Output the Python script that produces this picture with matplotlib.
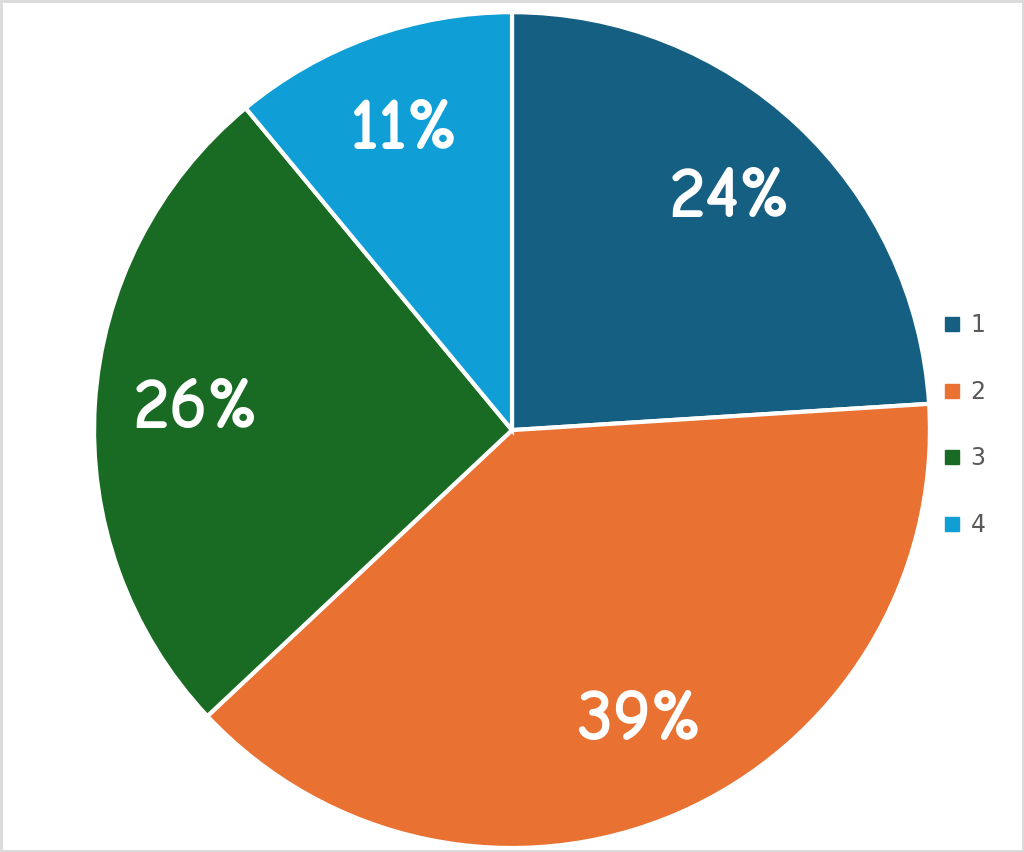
import matplotlib.pyplot as plt
from matplotlib.patches import Rectangle
from matplotlib.lines import Line2D

# data
labels = ["1", "2", "3", "4"]
values = [24, 39, 26, 11]
colors = ["#156082", "#E97132", "#196B24", "#0F9ED5"]

fig = plt.figure(figsize=(10.24, 8.52), dpi=100)
ax = fig.add_axes([0.0918, 0.0047, 0.8164, 0.981])

wedges, texts, autotexts = ax.pie(
    values, colors=colors, startangle=90, counterclock=False,
    autopct="%1.0f%%", pctdistance=0.76,
    wedgeprops=dict(edgecolor="white", linewidth=3),
    textprops=dict(color="white", fontsize=53, fontweight="bold",
                   family=["Comic Neue", "DejaVu Sans"]))
ax.set_xlim(-1, 1)
ax.set_ylim(-1, 1)
ax.set_aspect("equal")

# legend
handles = [Line2D([], [], marker="s", linestyle="none", markersize=10,
                  markerfacecolor=c, markeredgecolor=c) for c in colors]
leg = fig.legend(handles, labels, loc="center left", bbox_to_anchor=(0.897, 0.501),
                 frameon=False, fontsize=17, labelspacing=1.8, handletextpad=0.3,
                 handlelength=1.0)
for t in leg.get_texts():
    t.set_color("#595959")

# light border round the chart
fig.patches.append(Rectangle((0.001, 0.001), 0.998, 0.998, transform=fig.transFigure,
                             fill=False, edgecolor="#d9d9d9", linewidth=2))

fig.savefig("out.png", dpi=100)
